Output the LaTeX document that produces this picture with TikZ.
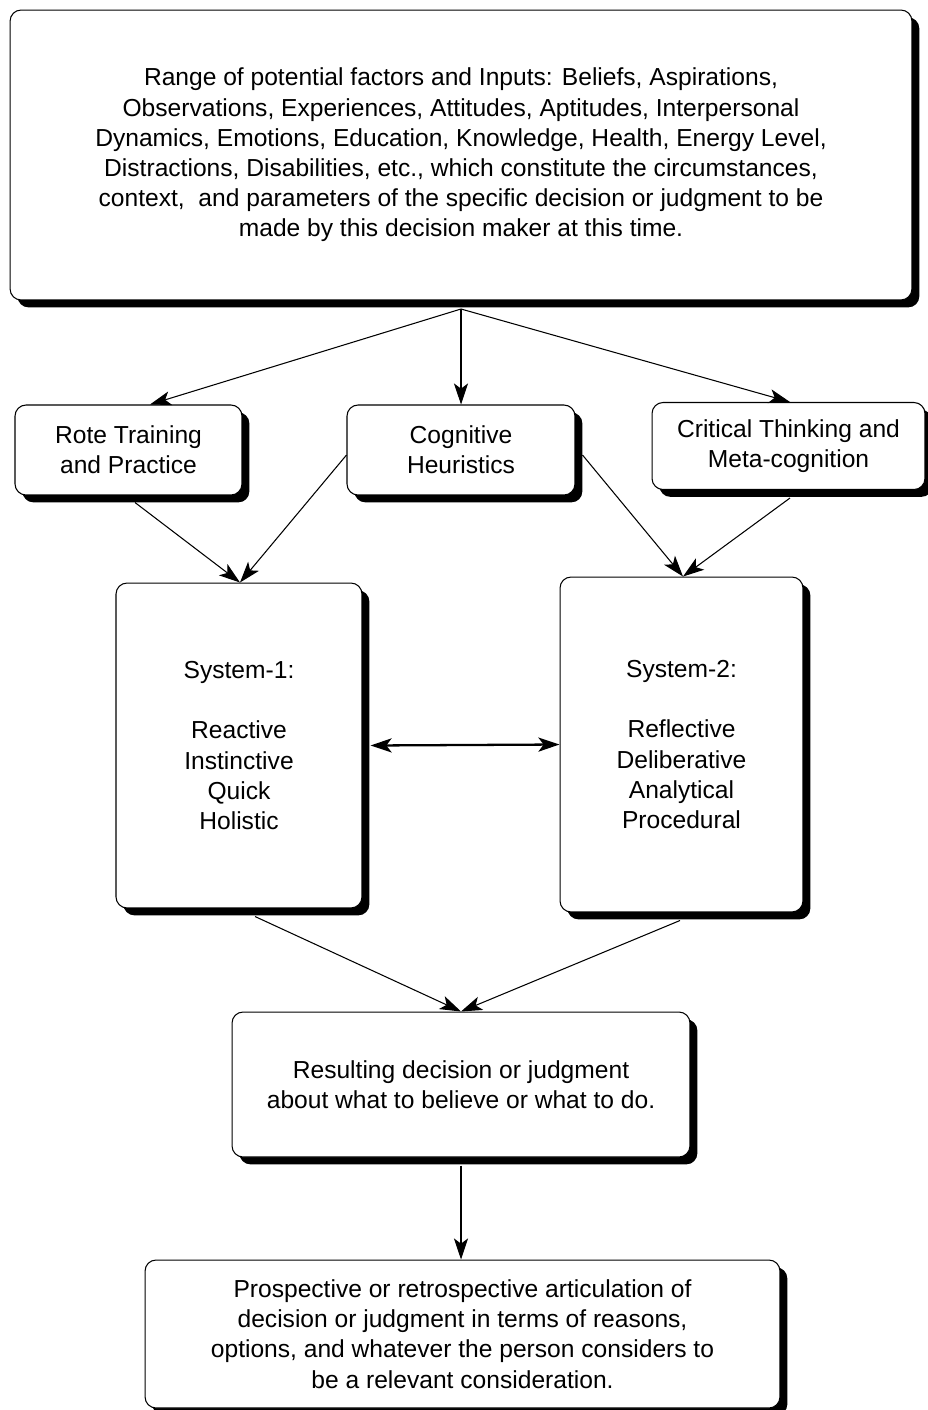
\documentclass[tikz,border=0pt]{standalone}
\usepackage{fontspec}
\setmainfont{Liberation Sans}
\usetikzlibrary{arrows.meta,shadows}
\begin{document}
\begin{tikzpicture}[x=0.02cm,y=-0.02cm,
  box/.style={draw=black, line width=0.6pt, rounded corners=0.22cm, fill=white, align=center,
    font=\fontsize{14}{17.2}\selectfont, inner sep=0pt,
    drop shadow={shadow xshift=4.2pt, shadow yshift=-4.2pt, opacity=1, fill=black}},
  conn/.style={line width=0.6pt, -{Stealth[length=12pt,width=8pt,inset=3pt]}},
  dconn/.style={line width=1.3pt, {Stealth[length=12pt,width=8pt,inset=3pt]}-{Stealth[length=12pt,width=8pt,inset=3pt]}}]
\useasboundingbox (0,0) rectangle (928,1410);
\node[box, minimum width=18.04cm, minimum height=5.8cm] (top) at (461,155)
 {Range of potential factors and Inputs: Beliefs, Aspirations,\\
  Observations, Experiences, Attitudes, Aptitudes, Interpersonal\\
  Dynamics, Emotions, Education, Knowledge, Health, Energy Level,\\
  Distractions, Disabilities, etc., which constitute the circumstances,\\
  context,\ \ and parameters of the specific decision or judgment to be\\
  made by this decision maker at this time.};
\node[box, minimum width=4.54cm, minimum height=1.8cm] (rote) at (128.5,450)
 {Rote Training\\and Practice};
\node[box, minimum width=4.56cm, minimum height=1.8cm] (cog) at (461,450)
 {Cognitive\\Heuristics};
\node[box, minimum width=5.46cm, minimum height=1.74cm] (crit) at (788.5,446)
 {Critical Thinking and\\Meta-cognition};
\node[box, minimum width=4.92cm, minimum height=6.5cm] (s1) at (239,745.5)
 {System-1:\\[17.2pt]Reactive\\Instinctive\\Quick\\Holistic};
\node[box, minimum width=4.86cm, minimum height=6.7cm] (s2) at (681.5,744.5)
 {System-2:\\[17.2pt]Reflective\\Deliberative\\Analytical\\Procedural};
\node[box, minimum width=9.16cm, minimum height=2.9cm] (res) at (461,1084.5)
 {Resulting decision or judgment\\about what to believe or what to do.};
\node[box, minimum width=12.7cm, minimum height=2.96cm] (art) at (462.5,1334)
 {Prospective or retrospective articulation of\\
  decision or judgment in terms of reasons,\\
  options, and whatever the person considers to\\
  be a relevant consideration.};
\coordinate (topb) at (461,309);
\draw[conn] (topb) -- (rote.north -| 150,0);
\draw[conn] (topb) -- (cog.north);
\draw[conn] (topb) -- (crit.north -| 790,0);
\draw[conn] (rote.south -| 135,0) ++(0,7) -- (s1.north -| 240,0);
\draw[conn] (cog.west) ++(0,5) -- (s1.north -| 240,0);
\draw[conn] (cog.east) ++(7,5) -- (s2.north -| 683,0);
\draw[conn] (crit.south -| 790,0) ++(0,8) -- (s2.north -| 683,0);
\draw[dconn] (s1.east) ++(8,0) -- (s2.west);
\draw[conn] (s1.south -| 255,0) ++(0,8) -- (res.north);
\draw[conn] (s2.south -| 680,0) ++(0,8) -- (res.north);
\coordinate (resb) at ([yshift=-8*0.02cm]res.south);
\draw[conn] (resb) -- (art.north -| resb);
\end{tikzpicture}
\end{document}
